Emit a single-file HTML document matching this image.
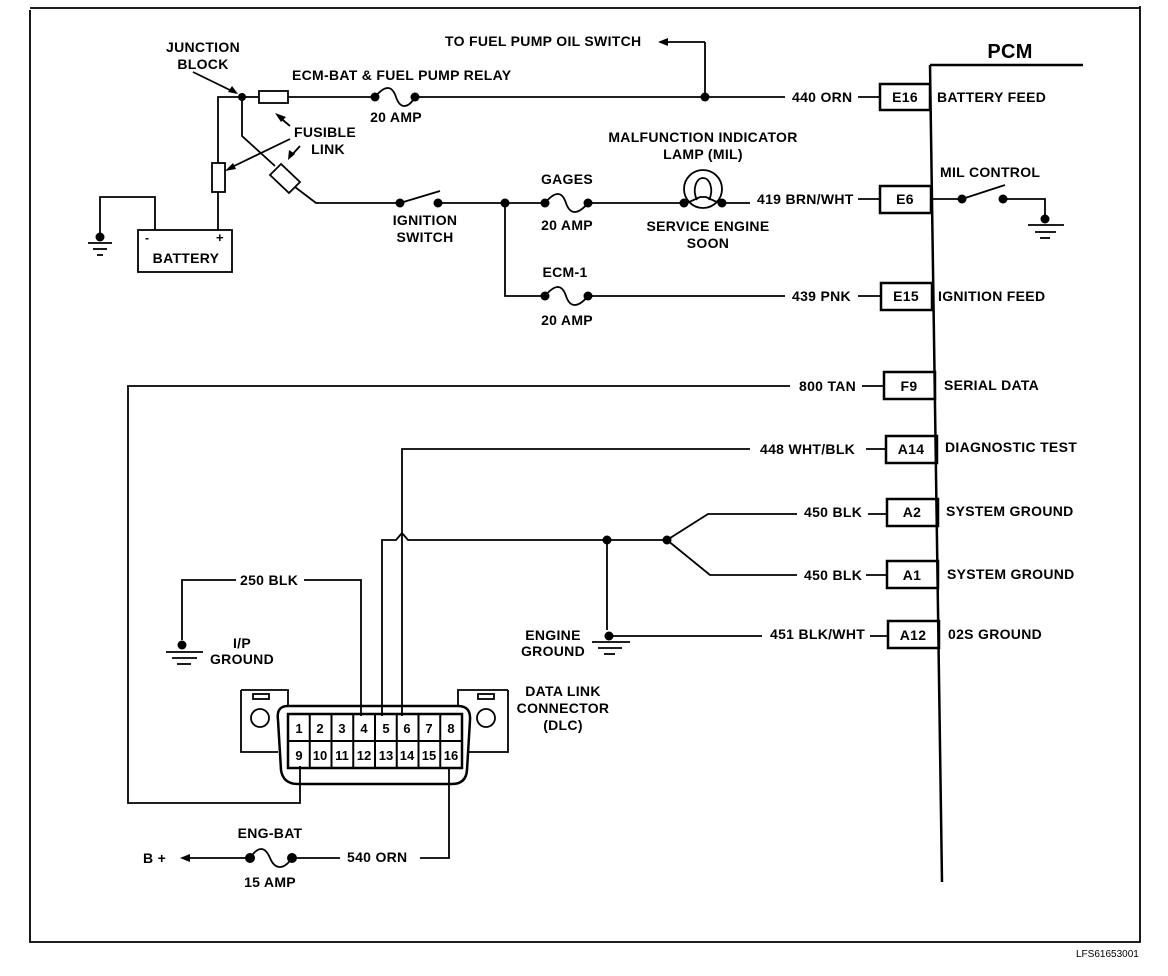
<!DOCTYPE html>
<html><head><meta charset="utf-8"><style>
html,body{margin:0;padding:0;background:#fff}
svg{display:block}
text{font-family:"Liberation Sans",sans-serif;font-weight:bold;fill:#000}
</style></head><body>
<svg width="1168" height="976" viewBox="0 0 1168 976" xmlns="http://www.w3.org/2000/svg">
<g fill="none" stroke="#000" stroke-width="1.8">
<polyline points="30,10 30,942 1140,942 1140,6"/>
<line x1="30" y1="8" x2="1140" y2="8"/>
<line x1="930" y1="65" x2="1083" y2="65" stroke-width="2.5"/>
<line x1="930" y1="65" x2="942" y2="882" stroke-width="2.5"/>
<rect x="880" y="84" width="50" height="26" stroke-width="2.5"/>
<rect x="880" y="186" width="51" height="27" stroke-width="2.5"/>
<rect x="881" y="283" width="51" height="27" stroke-width="2.5"/>
<rect x="884" y="372" width="51" height="27" stroke-width="2.5"/>
<rect x="886" y="436" width="51" height="27" stroke-width="2.5"/>
<rect x="887" y="499" width="51" height="27" stroke-width="2.5"/>
<rect x="887" y="561" width="51" height="27" stroke-width="2.5"/>
<rect x="888" y="621" width="51" height="27" stroke-width="2.5"/>
<line x1="242" y1="97" x2="258" y2="97"/>
<rect x="259" y="91" width="29" height="12"/>
<line x1="288" y1="97" x2="375" y2="97"/>
<path d="M375,97 C385,85 392,85 396,97 C400,109 408,109 415,97"/>
<line x1="415" y1="97" x2="785" y2="97"/>
<line x1="858" y1="97" x2="880" y2="97"/>
<line x1="705" y1="97" x2="705" y2="42"/>
<line x1="705" y1="42" x2="660" y2="42"/>
<polyline points="242,97 218,97 218,163"/>
<rect x="212" y="163" width="13" height="29"/>
<line x1="218" y1="192" x2="218" y2="230"/>
<polyline points="242,97 242,136 275,166"/>
<polygon points="270,175 281,164 300,182 289,193"/>
<polyline points="295,187 316,203 400,203"/>
<rect x="138" y="230" width="94" height="42"/>
<polyline points="155,230 155,197 100,197 100,237"/>
<line x1="88" y1="243" x2="112" y2="243"/><line x1="93" y1="249" x2="107" y2="249"/><line x1="97" y1="255" x2="103" y2="255"/>
<line x1="193" y1="72" x2="236" y2="93"/>
<line x1="290" y1="126" x2="278" y2="116"/>
<line x1="290" y1="139" x2="230" y2="168"/>
<line x1="300" y1="146" x2="290" y2="157"/>
<line x1="400" y1="203" x2="440" y2="191"/>
<line x1="438" y1="203" x2="545" y2="203"/>
<path d="M545,203 C555,191 562,191 566,203 C570,215 578,215 588,203"/>
<line x1="588" y1="203" x2="683" y2="203"/>
<circle cx="703" cy="189" r="19"/>
<path d="M697,200 C692,190 696,178 703,178 C710,178 714,190 709,200 M687,203 L700,197 L706,197 L719,203"/>
<line x1="722" y1="203" x2="750" y2="203"/>
<line x1="858" y1="199" x2="880" y2="199"/>
<line x1="931" y1="199" x2="962" y2="199"/>
<line x1="962" y1="199" x2="1005" y2="185"/>
<polyline points="1002,199 1045,199 1045,219"/>
<line x1="1028" y1="225" x2="1064" y2="225"/><line x1="1035" y1="232" x2="1056" y2="232"/><line x1="1040" y1="238" x2="1050" y2="238"/>
<polyline points="505,203 505,296 545,296"/>
<path d="M545,296 C555,284 562,284 566,296 C570,308 578,308 588,296"/>
<line x1="588" y1="296" x2="785" y2="296"/>
<line x1="858" y1="296" x2="881" y2="296"/>
<polyline points="790,386 128,386 128,803 300,803 300,766"/>
<line x1="862" y1="386" x2="884" y2="386"/>
<polyline points="750,449 402,449 402,716"/>
<line x1="866" y1="449" x2="886" y2="449"/>
<polyline points="382,716 382,540 396,540 402,533 408,540 667,540"/>
<polyline points="667,540 708,514 797,514"/>
<polyline points="667,540 710,575 797,575"/>
<line x1="868" y1="514" x2="887" y2="514"/>
<line x1="866" y1="575" x2="887" y2="575"/>
<line x1="607" y1="540" x2="607" y2="630"/>
<line x1="609" y1="636" x2="762" y2="636"/>
<line x1="870" y1="636" x2="888" y2="636"/>
<line x1="592" y1="642" x2="630" y2="642"/><line x1="598" y1="648" x2="622" y2="648"/><line x1="604" y1="654" x2="615" y2="654"/>
<polyline points="236,580 182,580 182,640"/>
<polyline points="304,580 361,580 361,716"/>
<line x1="166" y1="652" x2="203" y2="652"/><line x1="172" y1="658" x2="197" y2="658"/><line x1="177" y1="664" x2="191" y2="664"/>
<path d="M241,690 L288,690 L288,706 M241,690 L241,752 L278,752"/>
<rect x="253" y="694" width="16" height="5"/>
<circle cx="260" cy="718" r="9"/>
<path d="M508,690 L458,690 L458,706 M508,690 L508,752 L468,752"/>
<rect x="478" y="694" width="16" height="5"/>
<circle cx="486" cy="718" r="9"/>
<path d="M288,706 Q276,706 278,720 L281,770 Q283,784 298,784 L452,784 Q466,784 467,770 L470,720 Q471,706 458,706 Z" stroke-width="2.5"/>
<rect x="288" y="714" width="174" height="54" stroke-width="2.5"/>
<g stroke-width="2">
<line x1="288" y1="741" x2="462" y2="741"/>
<line x1="309.75" y1="714" x2="309.75" y2="768"/><line x1="331.5" y1="714" x2="331.5" y2="768"/><line x1="353.25" y1="714" x2="353.25" y2="768"/><line x1="375" y1="714" x2="375" y2="768"/><line x1="396.75" y1="714" x2="396.75" y2="768"/><line x1="418.5" y1="714" x2="418.5" y2="768"/><line x1="440.25" y1="714" x2="440.25" y2="768"/>
</g>
<polyline points="420,858 449,858 449,768"/>
<line x1="292" y1="858" x2="340" y2="858"/>
<path d="M250,858 C258,846 265,846 270,858 C275,870 284,870 292,858"/>
<line x1="250" y1="858" x2="182" y2="858"/>
</g>
<g fill="#000">
<polygon points="658,42 668,38 668,46"/>
<polygon points="180,858 190,854 190,862"/>
<polygon points="238,94 228,92 232,86"/>
<polygon points="275,113 286,117 281,122"/>
<polygon points="225,171 233,163 236,169"/>
<polygon points="288,160 289,150 295,154"/>
<circle cx="242" cy="97" r="4"/><circle cx="375" cy="97" r="4.5"/><circle cx="415" cy="97" r="4.5"/><circle cx="705" cy="97" r="4.5"/>
<circle cx="400" cy="203" r="4.5"/><circle cx="438" cy="203" r="4.5"/><circle cx="505" cy="203" r="4.5"/><circle cx="545" cy="203" r="4.5"/><circle cx="588" cy="203" r="4.5"/><circle cx="684" cy="203" r="4.5"/><circle cx="722" cy="203" r="4.5"/>
<circle cx="962" cy="199" r="4.5"/><circle cx="1003" cy="199" r="4.5"/><circle cx="1045" cy="219" r="4.5"/>
<circle cx="545" cy="296" r="4.5"/><circle cx="588" cy="296" r="4.5"/>
<circle cx="607" cy="540" r="4.5"/><circle cx="667" cy="540" r="4.5"/><circle cx="609" cy="636" r="4.5"/>
<circle cx="100" cy="237" r="4.5"/><circle cx="182" cy="645" r="4.5"/>
<circle cx="250" cy="858" r="5"/><circle cx="292" cy="858" r="5"/>
</g>
<g font-size="14" letter-spacing="0.3">
<text x="1010" y="58" text-anchor="middle" style="font-size:20px">PCM</text>
<text x="937" y="102">BATTERY FEED</text>
<text x="940" y="177">MIL CONTROL</text>
<text x="938" y="301">IGNITION FEED</text>
<text x="944" y="390">SERIAL DATA</text>
<text x="945" y="452">DIAGNOSTIC TEST</text>
<text x="946" y="516">SYSTEM GROUND</text>
<text x="947" y="579">SYSTEM GROUND</text>
<text x="948" y="639">02S GROUND</text>
<g text-anchor="middle">
<text x="905" y="102">E16</text><text x="905" y="204">E6</text><text x="906" y="301">E15</text><text x="909" y="391">F9</text><text x="911" y="454">A14</text><text x="912" y="517">A2</text><text x="912" y="580">A1</text><text x="913" y="640">A12</text>
<text x="203" y="52">JUNCTION</text><text x="203" y="69">BLOCK</text>
<text x="325" y="137">FUSIBLE</text><text x="328" y="154">LINK</text>
<text x="186" y="263">BATTERY</text>
<text x="425" y="225">IGNITION</text><text x="425" y="242">SWITCH</text>
<text x="567" y="184">GAGES</text><text x="567" y="230">20 AMP</text>
<text x="396" y="122">20 AMP</text>
<text x="703" y="142">MALFUNCTION INDICATOR</text><text x="703" y="159">LAMP (MIL)</text>
<text x="708" y="231">SERVICE ENGINE</text><text x="708" y="248">SOON</text>
<text x="565" y="277">ECM-1</text><text x="567" y="325">20 AMP</text>
<text x="553" y="640">ENGINE</text><text x="553" y="656">GROUND</text>
<text x="242" y="648">I/P</text><text x="242" y="664">GROUND</text>
<text x="563" y="696">DATA LINK</text><text x="563" y="713">CONNECTOR</text><text x="563" y="730">(DLC)</text>
<text x="270" y="838">ENG-BAT</text><text x="270" y="887">15 AMP</text>
</g>
<text x="445" y="46">TO FUEL PUMP OIL SWITCH</text>
<text x="292" y="80">ECM-BAT &amp; FUEL PUMP RELAY</text>
<text x="792" y="102">440 ORN</text>
<text x="757" y="204">419 BRN/WHT</text>
<text x="792" y="301">439 PNK</text>
<text x="799" y="391">800 TAN</text>
<text x="760" y="454">448 WHT/BLK</text>
<text x="804" y="517">450 BLK</text>
<text x="804" y="580">450 BLK</text>
<text x="770" y="639">451 BLK/WHT</text>
<text x="240" y="585">250 BLK</text>
<text x="347" y="862">540 ORN</text>
<text x="143" y="863">B +</text>
<text x="145" y="242" style="font-size:12px">-</text><text x="216" y="242" style="font-size:13px">+</text>
<g text-anchor="middle" style="font-size:13px" letter-spacing="0">
<text x="299" y="733">1</text><text x="320" y="733">2</text><text x="342" y="733">3</text><text x="364" y="733">4</text><text x="386" y="733">5</text><text x="407" y="733">6</text><text x="429" y="733">7</text><text x="451" y="733">8</text>
<text x="299" y="760">9</text><text x="320" y="760">10</text><text x="342" y="760">11</text><text x="364" y="760">12</text><text x="386" y="760">13</text><text x="407" y="760">14</text><text x="429" y="760">15</text><text x="451" y="760">16</text>
</g>
<text x="1076" y="957" style="font-size:10px;font-weight:normal" letter-spacing="0">LFS61653001</text>
</g>
</svg>
</body></html>
